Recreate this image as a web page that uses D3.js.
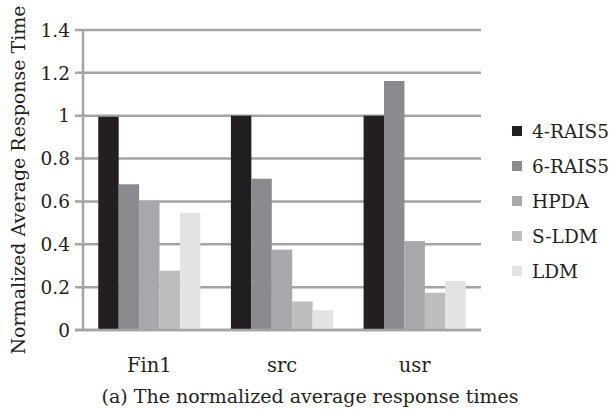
<!DOCTYPE html>
<html>
<head>
<meta charset="utf-8">
<script src="https://cdn.jsdelivr.net/npm/d3@7"></script>
<style>
  body { margin: 0; background: #fff; }
  text { font-family: 'DejaVu Serif', serif; fill: #231f20; }
</style>
</head>
<body>
<div id="chart"></div>
<script>
// Chart data
const traces = ['Fin1', 'src', 'usr'];
const schemes = ['4-RAIS5', '6-RAIS5', 'HPDA', 'S-LDM', 'LDM'];
const raid4 = [0.995, 1.0, 1.0];
const raid6 = [0.68, 0.706, 1.162];
const hpda = [0.60, 0.375, 0.415];
const sldm = [0.277, 0.133, 0.174];
const ldm = [0.546, 0.092, 0.229];
const yTicks = [0, 0.2, 0.4, 0.6, 0.8, 1, 1.2, 1.4];

const colors = ['#231f20', '#8a8b8e', '#a7a8ab', '#bcbdbf', '#e2e3e4'];
const seriesValues = [raid4, raid6, hpda, sldm, ldm];

const width = 616;
const height = 410;
const plotLeft = 83;
const plotRight = 481;
const plotTop = 30;
const plotBottom = 330;
const gridColor = '#a3a4a6';

const svg = d3
  .select('#chart')
  .append('svg')
  .attr('width', width)
  .attr('height', height);

// Scales
const y = d3.scaleLinear().domain([0, 1.4]).range([plotBottom, plotTop]);

const x0 = d3
  .scaleBand()
  .domain(traces)
  .range([plotLeft, plotRight])
  .paddingInner(0.23)
  .paddingOuter(0.115);

const x1 = d3
  .scaleBand()
  .domain(schemes)
  .range([0, x0.bandwidth()]);

// Gridlines (with small tick stubs to the left of the axis)
svg
  .append('g')
  .selectAll('line')
  .data(yTicks)
  .enter()
  .append('line')
  .attr('x1', plotLeft - 8)
  .attr('x2', plotRight)
  .attr('y1', (d) => y(d))
  .attr('y2', (d) => y(d))
  .style('stroke', gridColor)
  .style('stroke-width', 2.5);

// Vertical axis line
svg
  .append('line')
  .attr('x1', plotLeft)
  .attr('x2', plotLeft)
  .attr('y1', y(1.4))
  .attr('y2', y(0))
  .style('stroke', gridColor)
  .style('stroke-width', 2.5);

// Y tick labels
svg
  .append('g')
  .selectAll('text')
  .data(yTicks)
  .enter()
  .append('text')
  .attr('x', plotLeft - 13)
  .attr('y', (d) => y(d))
  .attr('dy', '0.36em')
  .attr('text-anchor', 'end')
  .style('font-size', '18.5px')
  .text((d) => d);

// Bars
const groups = svg
  .append('g')
  .selectAll('g')
  .data(traces)
  .enter()
  .append('g')
  .attr('transform', (d) => 'translate(' + x0(d) + ',0)');

groups
  .selectAll('rect')
  .data((d, i) => schemes.map((s, j) => ({ scheme: s, value: seriesValues[j][i], color: colors[j] })))
  .enter()
  .append('rect')
  .attr('x', (d) => x1(d.scheme))
  .attr('width', x1.bandwidth())
  .attr('y', (d) => y(d.value))
  .attr('height', (d) => y(0) - y(d.value))
  .style('fill', (d) => d.color);

// Bottom axis line drawn over bars
svg
  .append('line')
  .attr('x1', plotLeft - 8)
  .attr('x2', plotRight)
  .attr('y1', y(0))
  .attr('y2', y(0))
  .style('stroke', gridColor)
  .style('stroke-width', 2.5);

// Category labels
svg
  .append('g')
  .selectAll('text')
  .data(traces)
  .enter()
  .append('text')
  .attr('x', (d) => x0(d) + x0.bandwidth() / 2)
  .attr('y', 372)
  .attr('text-anchor', 'middle')
  .style('font-size', '19.5px')
  .text((d) => d);

// Y axis title
svg
  .append('text')
  .attr('transform', 'translate(25,180) rotate(-90)')
  .attr('text-anchor', 'middle')
  .style('font-size', '19px')
  .text('Normalized Average Response Time');

// Caption
svg
  .append('text')
  .attr('x', 310)
  .attr('y', 403)
  .attr('text-anchor', 'middle')
  .style('font-size', '19px')
  .text('(a) The normalized average response times');

// Legend
const legend = svg
  .append('g')
  .selectAll('g')
  .data(schemes)
  .enter()
  .append('g')
  .attr('transform', (d, i) => 'translate(512,' + (131 + i * 35) + ')');

legend
  .append('rect')
  .attr('x', 0)
  .attr('y', -5)
  .attr('width', 10)
  .attr('height', 10)
  .style('fill', (d, i) => colors[i]);

legend
  .append('text')
  .attr('x', 20)
  .attr('y', 0)
  .attr('dy', '0.36em')
  .style('font-size', '18.5px')
  .text((d) => d);
</script>
</body>
</html>
